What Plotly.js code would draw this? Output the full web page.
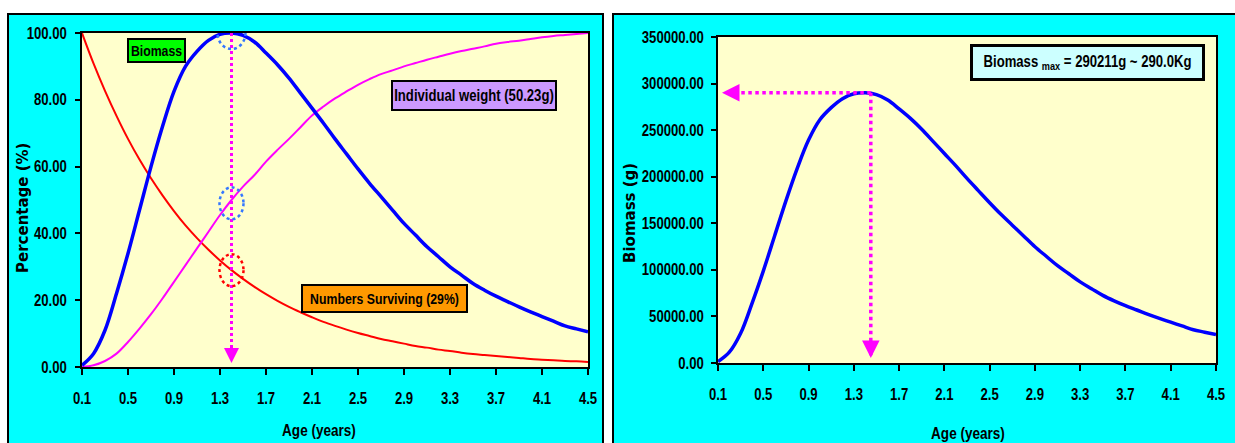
<!DOCTYPE html>
<html><head><meta charset="utf-8">
<script src="https://cdn.plot.ly/plotly-3.0.1.min.js"></script>
<style>
html,body{margin:0;padding:0;background:#fff;width:1235px;height:443px;overflow:hidden;position:relative}
.panel{position:absolute;background:#00FFFF;border:2px solid #000;box-sizing:border-box;overflow:hidden}
#left{left:7px;top:13px;width:597px;height:440px}
#right{left:612px;top:13px;width:640px;height:440px}
</style></head><body>
<div id="left" class="panel"></div>
<div id="right" class="panel"></div>
<script>
// ---- data ----
const ages = [0.1,0.2,0.3,0.4,0.5,0.6,0.7,0.8,0.9,1.0,1.1,1.2,1.3,1.4,1.5,1.6,1.7,1.8,1.9,2.0,2.1,2.2,2.3,2.4,2.5,2.6,2.7,2.8,2.9,3.0,3.1,3.2,3.3,3.4,3.5,3.6,3.7,3.8,3.9,4.0,4.1,4.2,4.3,4.4,4.5];
const survivalPct = [100,90.9,82.7,75.2,68.3,62.1,56.5,51.4,46.7,42.4,38.6,35.1,31.9,29.0,26.4,24.0,21.8,19.8,18.0,16.4,14.9,13.5,12.3,11.2,10.2,9.3,8.4,7.7,7.0,6.3,5.8,5.2,4.8,4.3,3.9,3.6,3.3,3.0,2.7,2.4,2.2,2.0,1.8,1.7,1.5];
const weightPct = [0,0.5,1.8,4.0,7.5,11.5,15.8,20.5,25.5,30.5,35.5,40.5,45.5,50.0,54.0,57.5,61.5,65.0,68.3,71.8,75.3,78.0,80.4,82.5,84.5,86.2,87.7,88.8,90.0,91.0,92.0,92.9,93.8,94.6,95.3,96.0,96.8,97.3,97.7,98.2,98.7,99.1,99.4,99.7,100];
const biomassPct = [0.5,4,11,22,34,47,60,72,82.5,90,94.5,97.8,99.6,100,99.3,97.3,94,90.5,86.5,82,77.5,73,68.3,63.8,59.3,55,51,47,43,39.5,36,33,30,27.5,25,23,21.2,19.6,18,16.5,15.1,13.7,12.3,11.4,10.5];
const biomassG = [1500,11600,31900,63800,98700,136400,174100,209000,239400,261200,274200,283800,289100,290211,288200,282400,272800,262600,251000,238000,224900,211900,198200,185100,172100,159600,148000,136400,124800,114600,104500,95800,87100,79800,72600,66700,61500,56900,52200,47900,43800,39800,35700,33100,30500];
const tickAges = [0.1,0.5,0.9,1.3,1.7,2.1,2.5,2.9,3.3,3.7,4.1,4.5];
const tickAgeLabels = ["0.1","0.5","0.9","1.3","1.7","2.1","2.5","2.9","3.3","3.7","4.1","4.5"];
const markAgeLeft = 1.4;
const markAgeRight = 1.45;
const peakBiomass = 290211;
const survivalAtMark = 29;
const weightAtMark = 50;

// ---- styling ----
const SANS = '"Liberation Sans",Arial,sans-serif';
const WIDE = '"DejaVu Sans","Verdana",sans-serif';
const NARROW_SCALE = 0.82; // Arial Narrow look from Arial metrics
const tickFont = {family: SANS, size: 16, color: '#000', weight: 'bold'};
const MAG = '#FF00FF';

function xAxis(){
  return {
    range: [0.1, 4.5], tickmode: 'array', tickvals: tickAges, ticktext: tickAgeLabels,
    showgrid: false, zeroline: false, showline: true, mirror: true, linecolor: '#000', linewidth: 2,
    ticks: 'outside', ticklen: 6, tickwidth: 2, tickcolor: '#000', tickfont: tickFont,
    ticklabelstandoff: 10
  };
}
function yAxis(range, dtick, standoff){
  return {
    range: range, tickmode: 'linear', tick0: 0, dtick: dtick, tickformat: '.2f',
    showgrid: false, zeroline: false, showline: true, mirror: true, linecolor: '#000', linewidth: 2,
    ticks: 'outside', ticklen: 5, tickwidth: 2, tickcolor: '#000', tickfont: tickFont, ticklabelstandoff: standoff
  };
}
function boxNote(x, y, text, size, bg, bw, w, h){
  return {xref: 'paper', yref: 'paper', x: x, y: y, xanchor: 'center', yanchor: 'middle', text: text, showarrow: false,
    font: {family: SANS, size: size, color: '#000', weight: 'bold'}, bgcolor: bg, bordercolor: '#000',
    borderwidth: bw, borderpad: 2, width: w, height: h};
}
function titleNote(text, x, y, xshift, yshift, angle, fam, size){
  return {xref: 'paper', yref: 'paper', x: x, y: y, xanchor: 'center', yanchor: 'middle', xshift: xshift, yshift: yshift,
    textangle: angle, text: text, showarrow: false, font: {family: fam, size: size, color: '#000', weight: 'bold'}};
}

// ---- left chart ----
const leftTraces = [
  {x: ages, y: survivalPct, type: 'scatter', mode: 'lines', line: {color: '#FF0000', width: 2, shape: 'spline'}, hoverinfo: 'skip'},
  {x: ages, y: weightPct, type: 'scatter', mode: 'lines', line: {color: MAG, width: 2, shape: 'spline'}, hoverinfo: 'skip'},
  {x: ages, y: biomassPct, type: 'scatter', mode: 'lines', line: {color: '#0000FF', width: 3.5, shape: 'spline'}, hoverinfo: 'skip'}
];
const leftLayout = {
  width: 593, height: 436, margin: {l: 73, r: 14, t: 18, b: 84},
  paper_bgcolor: '#00FFFF', plot_bgcolor: '#FFFFCC', showlegend: false,
  xaxis: xAxis(),
  yaxis: yAxis([0, 100], 20, 5),
  shapes: [
    {type: 'line', xref: 'x', yref: 'y', x0: markAgeLeft, x1: markAgeLeft, y0: 100, y1: 2, line: {color: MAG, width: 3, dash: 'dot'}},
    {type: 'circle', xref: 'x', yref: 'y', xsizemode: 'pixel', ysizemode: 'pixel', xanchor: markAgeLeft, yanchor: 100, x0: -14, x1: 14, y0: -16, y1: 16, line: {color: '#3377FF', width: 2.5, dash: 'dot'}},
    {type: 'circle', xref: 'x', yref: 'y', xsizemode: 'pixel', ysizemode: 'pixel', xanchor: markAgeLeft, yanchor: weightAtMark - 1, x0: -12, x1: 12, y0: -16, y1: 16, line: {color: '#3377FF', width: 2.5, dash: 'dot'}},
    {type: 'circle', xref: 'x', yref: 'y', xsizemode: 'pixel', ysizemode: 'pixel', xanchor: markAgeLeft, yanchor: survivalAtMark, x0: -12, x1: 12, y0: -16, y1: 16, line: {color: '#FF0000', width: 2.5, dash: 'dot'}}
  ],
  annotations: [
    boxNote(0.148, 0.949, 'Biomass', 15, '#00FF00', 2, 51, 17),
    boxNote(0.775, 0.813, 'Individual weight (50.23g)', 16, '#CC99FF', 2, 158, 23),
    boxNote(0.598, 0.205, 'Numbers Surviving (29%)', 15, '#FF9900', 2, 159, 21),
    titleNote('Age (years)', 0.5, 0, -16, -63, 0, SANS, 16.5),
    titleNote('Percentage (%)', 0, 0.5, -59, -8, -90, WIDE, 15),
    {xref: 'x', yref: 'y', x: markAgeLeft, y: 0, text: '', showarrow: true, ax: 0, ay: -12, arrowhead: 2, arrowsize: 1, arrowwidth: 3, arrowcolor: MAG, standoff: 4}
  ]
};

// ---- right chart ----
const rightTraces = [
  {x: ages, y: biomassG, type: 'scatter', mode: 'lines', line: {color: '#0000FF', width: 3.5, shape: 'spline'}, hoverinfo: 'skip'}
];
const rightLayout = {
  width: 636, height: 436, margin: {l: 104, r: 34, t: 22, b: 88},
  paper_bgcolor: '#00FFFF', plot_bgcolor: '#FFFFCC', showlegend: false,
  xaxis: xAxis(),
  yaxis: yAxis([0, 350000], 50000, 4),
  shapes: [
    {type: 'line', xref: 'x', yref: 'y', x0: markAgeRight, x1: markAgeRight, y0: peakBiomass, y1: 6000, line: {color: MAG, width: 3.5, dash: 'dot'}},
    {type: 'line', xref: 'x', yref: 'y', x0: markAgeRight, x1: 0.17, y0: peakBiomass, y1: peakBiomass, line: {color: MAG, width: 3.5, dash: 'dot'}}
  ],
  annotations: [
    boxNote(0.742, 0.922, 'Biomass <sub>max</sub> = 290211g ~ 290.0Kg', 16, '#CCFFFF', 3, 225, 27),
    titleNote('Age (years)', 0.5, 0, 1, -70, 0, SANS, 16.5),
    titleNote('Biomass (g)', 0, 0.5, -88, -13, -90, WIDE, 15),
    {xref: 'x', yref: 'y', x: markAgeRight, y: 0, text: '', showarrow: true, ax: 0, ay: -12, arrowhead: 2, arrowsize: 1, arrowwidth: 3.5, arrowcolor: MAG, standoff: 5},
    {xref: 'x', yref: 'y', x: 0.1, y: peakBiomass, text: '', showarrow: true, ax: 12, ay: 0, arrowhead: 2, arrowsize: 1, arrowwidth: 3.5, arrowcolor: MAG, standoff: 4}
  ]
};

// condense Arial-metric bold text horizontally, keeping each text's anchor in place
function condense(gd){
  const sel = gd.querySelectorAll('.xtick text, .ytick text, text.annotation-text');
  sel.forEach(function(el){
    const txt = el.textContent || '';
    if (!txt.trim() || txt.indexOf('Percentage') === 0 || txt.indexOf('Biomass (g)') === 0) return;
    // drop the size-constraint clipping so the whole (condensed) text shows
    let p = el;
    while (p && p.nodeType === 1 && !(p.classList && p.classList.contains('annotation'))) {
      p.removeAttribute('clip-path');
      p = p.parentNode;
    }
    const x = parseFloat(el.getAttribute('x')) || 0;
    const t = el.getAttribute('transform') || '';
    el.setAttribute('transform', (t + ' translate(' + x + ',0) scale(' + NARROW_SCALE + ',1) translate(' + (-x) + ',0)').trim());
  });
}

const cfg = {staticPlot: true, displayModeBar: false};
Plotly.newPlot('left', leftTraces, leftLayout, cfg).then(condense);
Plotly.newPlot('right', rightTraces, rightLayout, cfg).then(condense);
</script>
</body></html>
